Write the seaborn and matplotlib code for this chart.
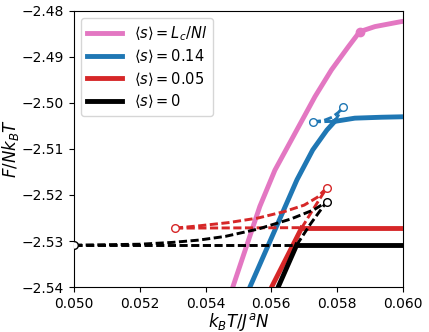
import numpy as np
import pandas as pd
import matplotlib
matplotlib.use("Agg")
import matplotlib.pyplot as plt
import seaborn as sns

# <s> = Lc/Nl  (continuous, single branch)
pink_x = [0.05460, 0.05483, 0.05565, 0.05611, 0.05672, 0.05733, 0.05783, 0.05834, 0.05869, 0.05915, 0.05996, 0.06050]
pink_y = [-2.5450, -2.5400, -2.5225, -2.5146, -2.5066, -2.4986, -2.4928, -2.4878, -2.4845, -2.4834, -2.4823, -2.4819]
pink_pt = (0.05869, -2.4845)

# <s> = 0.14
blue_low_x = [0.05510, 0.05535, 0.05678, 0.05726, 0.05769, 0.05793]
blue_low_y = [-2.5450, -2.5400, -2.5167, -2.5102, -2.5059, -2.5040]
blue_high_x = [0.05793, 0.05854, 0.05935, 0.06000, 0.06050]
blue_high_y = [-2.5040, -2.5033, -2.5031, -2.5030, -2.5029]
blue_low_meta_x = [0.05793, 0.05819]
blue_low_meta_y = [-2.5040, -2.5008]
blue_high_meta_x = [0.05726, 0.05793]
blue_high_meta_y = [-2.5041, -2.5040]
blue_unst_x = [0.05726, 0.05760, 0.05785, 0.05805, 0.05819]
blue_unst_y = [-2.5041, -2.5038, -2.5031, -2.5020, -2.5008]
blue_pts_x = [0.05726, 0.05819]
blue_pts_y = [-2.5041, -2.5008]

# <s> = 0.05
red_low_x = [0.05580, 0.05601, 0.05692]
red_low_y = [-2.5450, -2.5400, -2.5272]
red_high_x = [0.05692, 0.06050]
red_high_y = [-2.5272, -2.5272]
red_low_meta_x = [0.05692, 0.05730, 0.05769]
red_low_meta_y = [-2.5272, -2.5228, -2.5184]
red_high_meta_x = [0.05307, 0.05692]
red_high_meta_y = [-2.5272, -2.5271]
red_unst_x = [0.05307, 0.05380, 0.05470, 0.05560, 0.05640, 0.05700, 0.05740, 0.05769]
red_unst_y = [-2.5272, -2.5267, -2.5260, -2.5250, -2.5236, -2.5222, -2.5205, -2.5184]
red_pts_x = [0.05307, 0.05769]
red_pts_y = [-2.5272, -2.5184]

# <s> = 0
black_low_x = [0.05600, 0.05621, 0.05677]
black_low_y = [-2.5450, -2.5400, -2.5309]
black_high_x = [0.05677, 0.06050]
black_high_y = [-2.5309, -2.5309]
black_low_meta_x = [0.05677, 0.05720, 0.05768]
black_low_meta_y = [-2.5309, -2.5262, -2.5215]
black_high_meta_x = [0.05000, 0.05677]
black_high_meta_y = [-2.5309, -2.5309]
black_unst_x = [0.05000, 0.05200, 0.05300, 0.05380, 0.05460, 0.05560, 0.05660, 0.05730, 0.05768]
black_unst_y = [-2.5309, -2.5307, -2.5303, -2.5298, -2.5290, -2.5274, -2.5252, -2.5232, -2.5215]
black_pts_x = [0.05000, 0.05768]
black_pts_y = [-2.5309, -2.5215]

labels = [r"$\langle s\rangle = L_c/Nl$", r"$\langle s\rangle = 0.14$",
          r"$\langle s\rangle = 0.05$", r"$\langle s\rangle = 0$"]
colors = ["#e377c2", "#1f77b4", "#d62728", "black"]

xticks = [0.050, 0.052, 0.054, 0.056, 0.058, 0.060]
xticklabels = ["0.050", "0.052", "0.054", "0.056", "0.058", "0.060"]
yticks = [-2.54, -2.53, -2.52, -2.51, -2.50, -2.49, -2.48]
yticklabels = ["\u22122.54", "\u22122.53", "\u22122.52", "\u22122.51", "\u22122.50", "\u22122.49", "\u22122.48"]

plt.rcParams["font.family"] = ["DejaVu Sans"]
fig, ax = plt.subplots(figsize=(4.29, 3.32), dpi=100)
fig.subplots_adjust(left=0.1725, right=0.939, bottom=0.1355, top=0.967)

lw_s = 3.5
lw_d = 2.1
dash = (0, (2.8, 1.2))


def line(x, y, c, ls="-", lw=lw_s, z=2):
    sns.lineplot(x=x, y=y, color=c, linestyle=ls, lw=lw, sort=False,
                 estimator=None, ax=ax, zorder=z)


def pts(x, y, c):
    ax.plot(x, y, "o", ms=5.5, mfc="white", mec=c, mew=1.0, zorder=4, linestyle="none")


# pink
line(pink_x, pink_y, colors[0])
ax.plot(*pink_pt, "o", ms=6, color=colors[0], zorder=4)

# blue, red, black swallowtails
for c, lx, ly, hx, hy, lmx, lmy, hmx, hmy, ux, uy, px, py in [
    (colors[1], blue_low_x, blue_low_y, blue_high_x, blue_high_y, blue_low_meta_x, blue_low_meta_y,
     blue_high_meta_x, blue_high_meta_y, blue_unst_x, blue_unst_y, blue_pts_x, blue_pts_y),
    (colors[2], red_low_x, red_low_y, red_high_x, red_high_y, red_low_meta_x, red_low_meta_y,
     red_high_meta_x, red_high_meta_y, red_unst_x, red_unst_y, red_pts_x, red_pts_y),
    (colors[3], black_low_x, black_low_y, black_high_x, black_high_y, black_low_meta_x, black_low_meta_y,
     black_high_meta_x, black_high_meta_y, black_unst_x, black_unst_y, black_pts_x, black_pts_y),
]:
    line(lmx, lmy, c, dash, lw_d, 3)
    line(hmx, hmy, c, dash, lw_d, 3)
    line(ux, uy, c, dash, lw_d, 3)
    line(lx, ly, c, z=3)
    line(hx, hy, c, z=3)
    pts(px, py, c)

handles = [plt.Line2D([], [], color=c, lw=lw_s) for c in colors]
ax.legend(handles, labels, loc="upper left", fontsize=10.5, handlelength=2.4,
          borderaxespad=0.5, labelspacing=0.3)

ax.set_xlim(0.050, 0.060)
ax.set_ylim(-2.54, -2.48)
ax.set_xticks(xticks)
ax.set_xticklabels(xticklabels)
ax.set_yticks(yticks)
ax.set_yticklabels(yticklabels)
ax.tick_params(labelsize=10)
ax.set_xlabel(r"$k_BT/J^aN$", fontsize=12, labelpad=0)
ax.set_ylabel(r"$F/Nk_BT$", fontsize=12, labelpad=1)

fig.savefig("out.png", dpi=100)
